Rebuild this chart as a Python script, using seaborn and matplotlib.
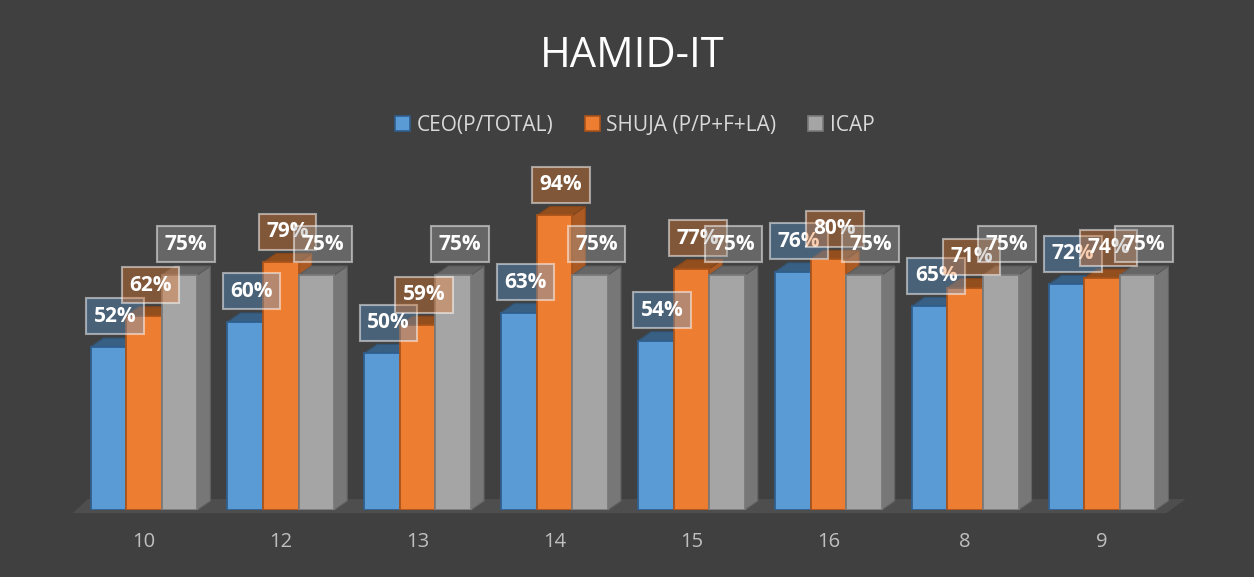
import numpy as np
import pandas as pd
import matplotlib
matplotlib.use('Agg')
import matplotlib.pyplot as plt
import seaborn as sns
from matplotlib.patches import Polygon, Patch
from matplotlib.colors import to_rgb

# data
categories = ['10', '12', '13', '14', '15', '16', '8', '9']
ceo = [52, 60, 50, 63, 54, 76, 65, 72]
shuja = [62, 79, 59, 94, 77, 80, 71, 74]
icap = [75, 75, 75, 75, 75, 75, 75, 75]
series = ['CEO(P/TOTAL)', 'SHUJA (P/P+F+LA)', 'ICAP']

colors = ['#5B9BD5', '#ED7D31', '#A5A5A5']
edges = ['#2F5F8E', '#A9531B', '#7A7A7A']
BG = '#404040'


def shade(c, f):
    r, g, b = to_rgb(c)
    return (r * f, g * f, b * f)


df = pd.DataFrame({
    'category': categories * 3,
    'value': ceo + shuja + icap,
    'series': np.repeat(series, len(categories)),
})

sns.set_theme(style='dark')
plt.rcParams['font.family'] = ['Open Sans', 'DejaVu Sans']

fig = plt.figure(figsize=(12.54, 5.77), dpi=100)
fig.patch.set_facecolor(BG)
ax = fig.add_axes([0.0602, 0.1161, 0.8732, 0.5430])
ax.set_facecolor(BG)

sns.barplot(data=df, x='category', y='value', hue='series', order=categories,
            hue_order=series, palette=colors, saturation=1, width=0.78,
            ax=ax, legend=False)
ax.set_xlim(-0.5, 7.5)
ax.set_ylim(0, 100)

# pseudo-3D depth offsets (px -> data units)
dx = 13 / 136.9
dy = 9 / 3.133

# floor
xl, xr = ax.get_xlim()
floor = Polygon([(xl - 0.02, -1.0), (xr - 0.03, -1.0), (xr + 0.11, 3.5), (xl + 0.09, 3.5)],
                closed=True, facecolor='#4E4E4E', edgecolor='none', clip_on=False, zorder=0.5)
ax.add_patch(floor)

for j, cont in enumerate(ax.containers):
    for i, bar in enumerate(cont.patches):
        x0 = bar.get_x()
        w = bar.get_width()
        h = bar.get_height()
        z = 1 + i * 10 + j * 2
        bar.set_facecolor(colors[j])
        bar.set_edgecolor(edges[j])
        bar.set_linewidth(1.3)
        bar.set_zorder(z + 1)
        side = Polygon([(x0 + w, 0), (x0 + w + dx, dy), (x0 + w + dx, h + dy), (x0 + w, h)],
                       closed=True, facecolor=shade(colors[j], 0.72), edgecolor=shade(colors[j], 0.6),
                       linewidth=0.8, zorder=z)
        top = Polygon([(x0, h), (x0 + dx, h + dy), (x0 + w + dx, h + dy), (x0 + w, h)],
                      closed=True, facecolor=shade(colors[j], 0.62), edgecolor=shade(colors[j], 0.55),
                      linewidth=0.8, zorder=z)
        ax.add_patch(side)
        ax.add_patch(top)
        r, g, b = to_rgb(colors[j])
        ax.annotate(f'{int(h)}%', xy=(x0 + w / 2 + dx / 2, h + dy), xytext=(0, 8),
                    textcoords='offset points', ha='center', va='bottom',
                    fontsize=15, fontweight='bold', color='white', zorder=200 + j * 10 + i,
                    bbox=dict(boxstyle='square,pad=0.36', facecolor=(r, g, b, 0.38),
                              edgecolor=(1, 1, 1, 0.5), linewidth=1.5))

ax.set_xlabel('')
ax.set_ylabel('')
ax.set_yticks([])
ax.tick_params(axis='x', length=0, pad=16, labelsize=14.5, labelcolor='#BFBFBF')
for s in ax.spines.values():
    s.set_visible(False)
ax.grid(False)

fig.text(0.504, 0.903, 'HAMID-IT', ha='center', va='center', fontsize=30, color='white')

handles = [Patch(facecolor=colors[k], edgecolor=edges[k], linewidth=1.2) for k in range(3)]
fig.legend(handles, series, loc='center', bbox_to_anchor=(0.506, 0.783), ncol=3, frameon=False,
           fontsize=15, labelcolor='#D9D9D9', handlelength=0.75, handleheight=0.75,
           handletextpad=0.3, columnspacing=1.5)

fig.savefig('out.png', dpi=100, facecolor=BG)
